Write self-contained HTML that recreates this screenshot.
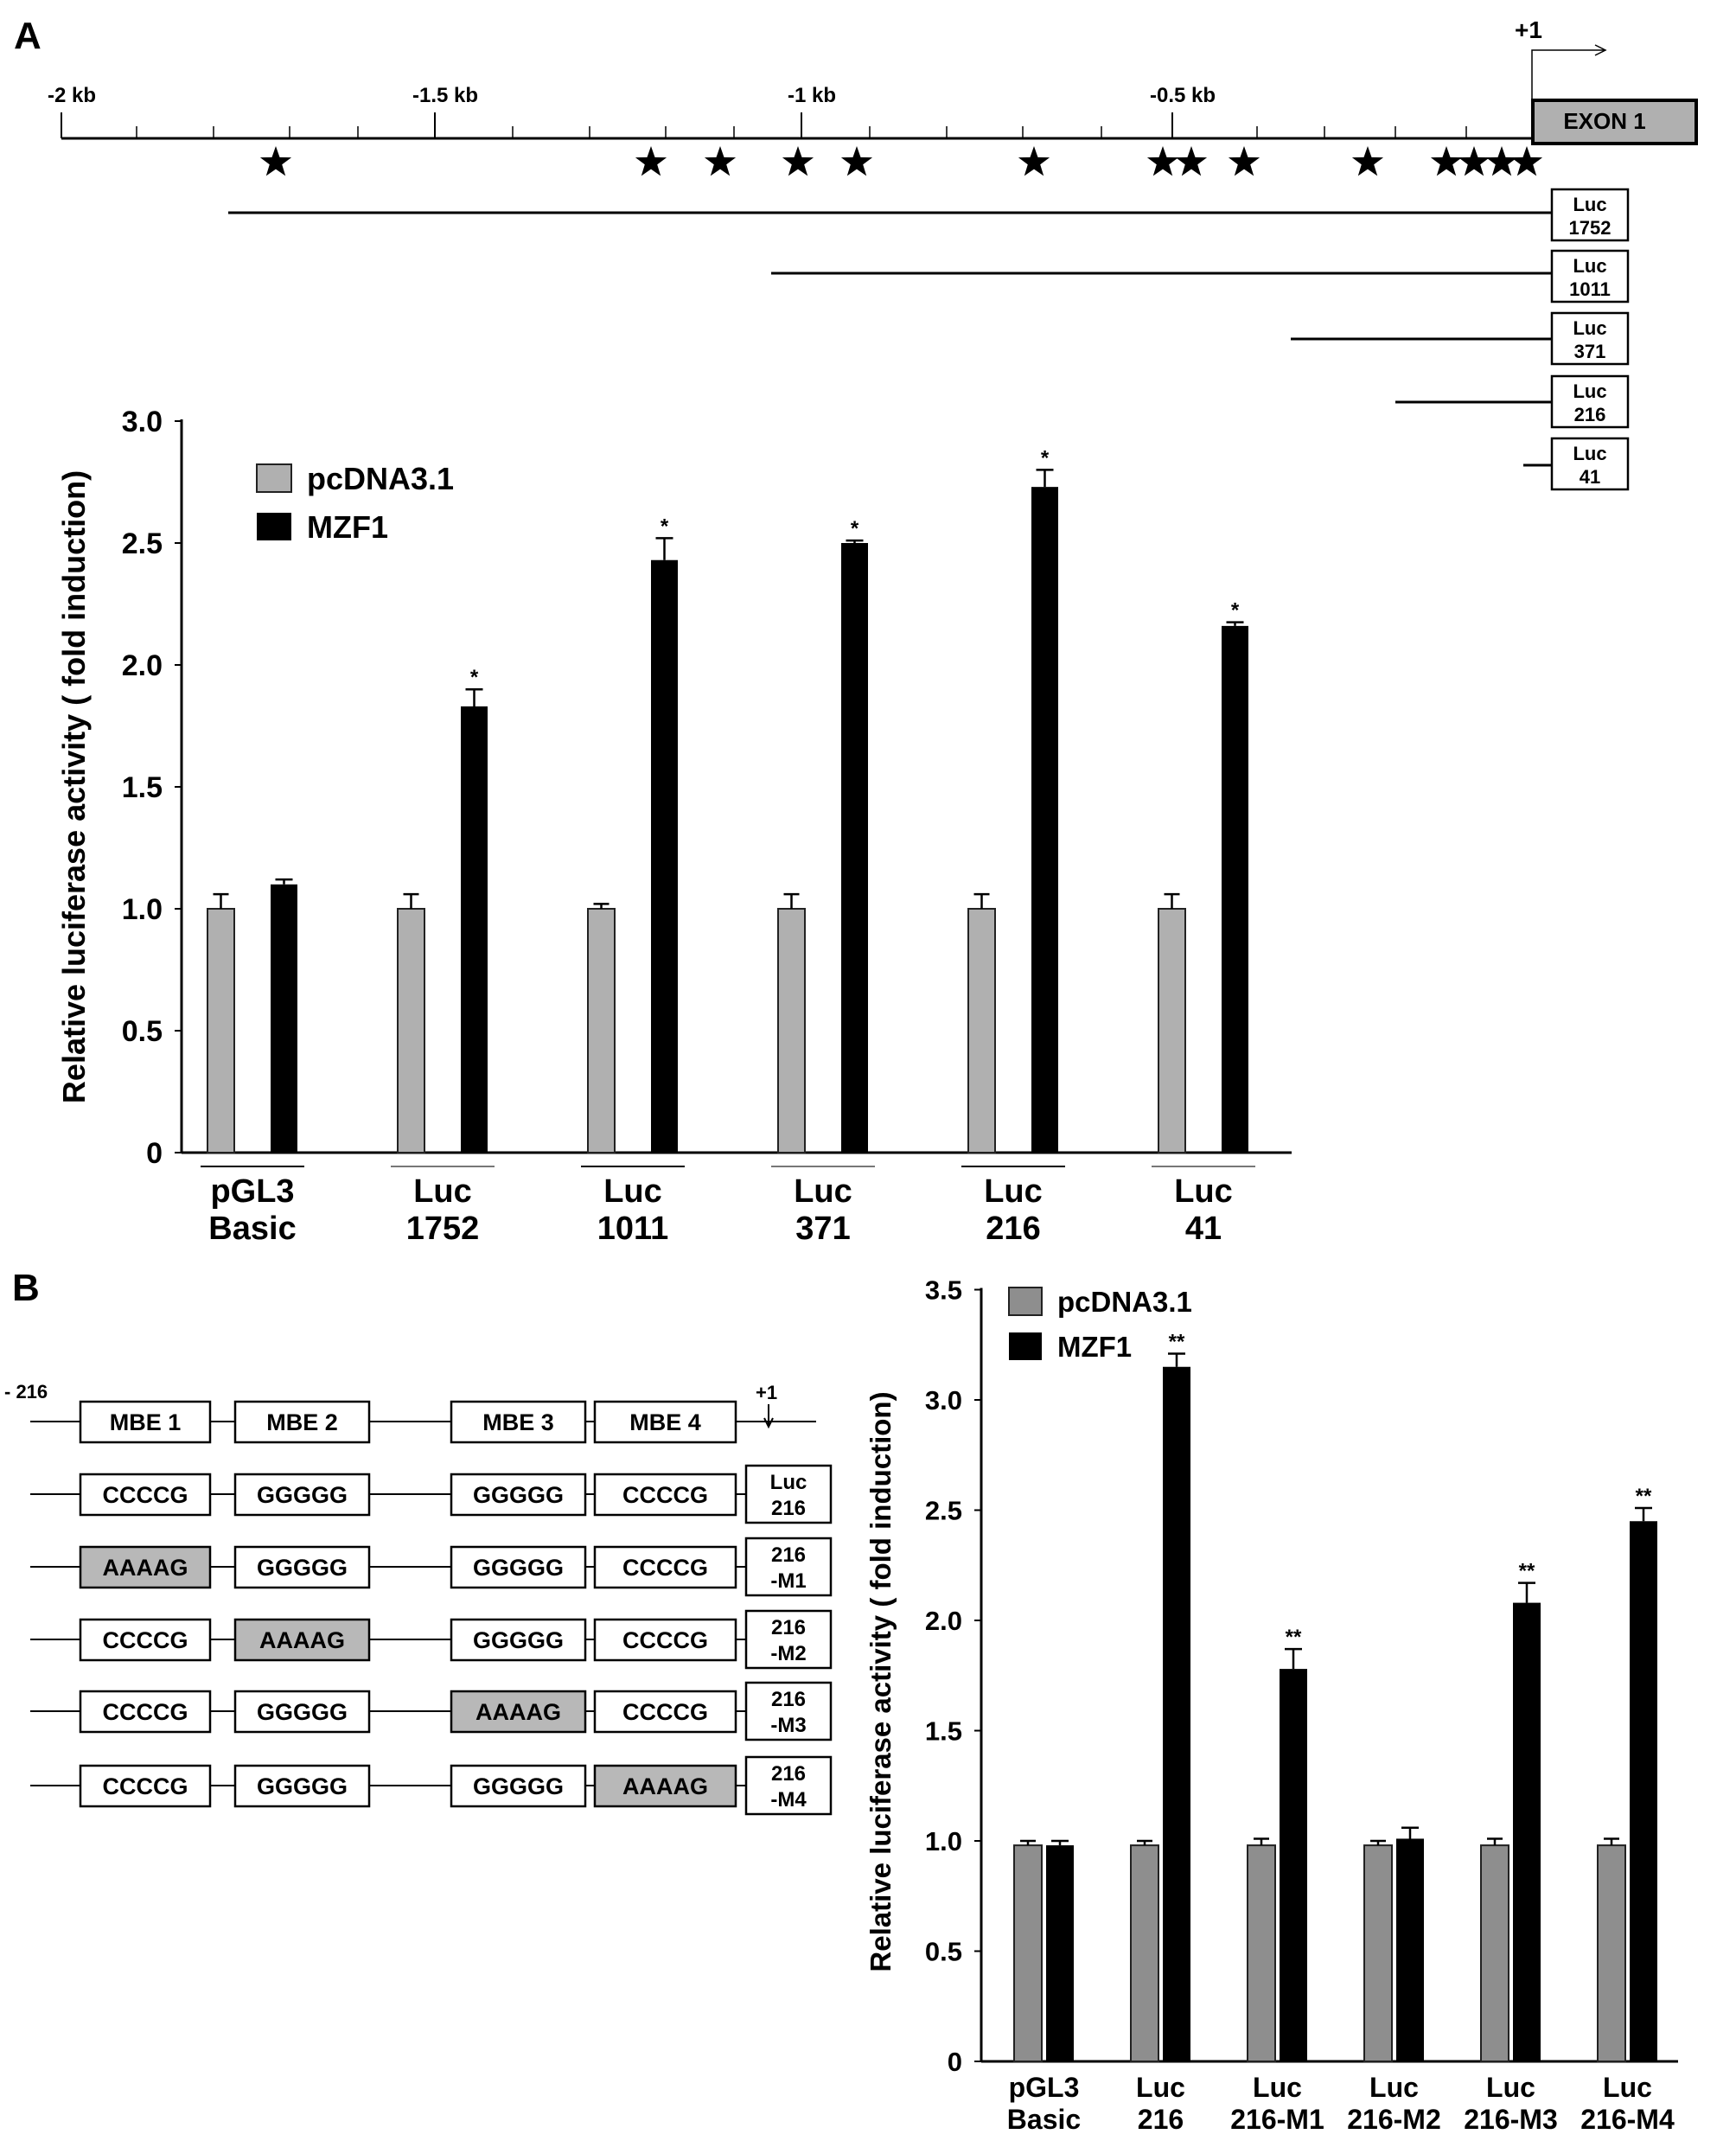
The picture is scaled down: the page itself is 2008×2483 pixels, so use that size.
<!DOCTYPE html>
<html><head><meta charset="utf-8"><style>
html,body{margin:0;padding:0;background:#fff}
svg{display:block;font-family:"Liberation Sans",Arial,sans-serif;font-weight:bold}
</style></head><body>
<svg id="fig" width="2008" height="2483" viewBox="0 0 2008 2483" xmlns="http://www.w3.org/2000/svg">
<g id="mapA"></g>
<g id="chartA"></g>
<g id="diagB"></g>
<g id="chartB"></g>
</svg>
<script>
const NS='http://www.w3.org/2000/svg';
// ---- Chart A data ----
const catsA1=['pGL3','Luc','Luc','Luc','Luc','Luc'];
const catsA2=['Basic','1752','1011','371','216','41'];
const pcA=[1.0,1.0,1.0,1.0,1.0,1.0];
const pcErrA=[0.06,0.06,0.02,0.06,0.06,0.06];
const mzA=[1.1,1.83,2.43,2.5,2.73,2.16];
const mzErrA=[0.02,0.07,0.09,0.01,0.07,0.015];
const sigA=['','*','*','*','*','*'];
const ticksA=[0,0.5,1.0,1.5,2.0,2.5,3.0];
const tickLabA=['0','0.5','1.0','1.5','2.0','2.5','3.0'];
// ---- Chart B data ----
const catsB1=['pGL3','Luc','Luc','Luc','Luc','Luc'];
const catsB2=['Basic','216','216-M1','216-M2','216-M3','216-M4'];
const pcB=[0.98,0.98,0.98,0.98,0.98,0.98];
const pcErrB=[0.02,0.02,0.03,0.02,0.03,0.03];
const mzB=[0.98,3.15,1.78,1.01,2.08,2.45];
const mzErrB=[0.02,0.06,0.09,0.05,0.09,0.06];
const sigB=['','**','**','','**','**'];
const ticksB=[0,0.5,1.0,1.5,2.0,2.5,3.0,3.5];
const tickLabB=['0','0.5','1.0','1.5','2.0','2.5','3.0','3.5'];

function mk(parent,tag,attrs,text){const e=document.createElementNS(NS,tag);for(const k in attrs)e.setAttribute(k,attrs[k]);if(text!==undefined)e.textContent=text;parent.appendChild(e);return e;}

function chart(g,o){
  const y=v=>o.y0-v*o.unit;
  mk(g,'line',{x1:o.ax,y1:y(o.ticks[o.ticks.length-1])-2,x2:o.ax,y2:o.y0,stroke:'#000','stroke-width':3});
  mk(g,'line',{x1:o.ax,y1:o.y0,x2:o.axEnd,y2:o.y0,stroke:'#000','stroke-width':3});
  o.ticks.forEach((t,i)=>{
    const tk=mk(g,'line',{x1:o.ax-8,y1:y(t),x2:o.ax,y2:y(t),stroke:'#000','stroke-width':2});
    
    
    const tl=mk(g,'text',{x:o.ax-22,y:y(t)+o.tf*0.36,'font-size':o.tf,'text-anchor':'end'},o.tickLab[i]);
    
    
  });
  const tt=mk(g,'text',{x:0,y:0,'font-size':o.titleF,'text-anchor':'middle',transform:`translate(${o.titleX},${o.titleY}) rotate(-90)`},'Relative luciferase activity ( fold induction)');
  
  
  for(let i=0;i<o.pc.length;i++){
    const gx=o.gx0+o.gs*i, bx=o.bx0+o.gs*i;
    const r1=mk(g,'rect',{x:gx,y:y(o.pc[i]),width:o.bw,height:o.y0-y(o.pc[i]),fill:o.gray,stroke:'#222','stroke-width':2});
    
    
    const e1=y(o.pc[i]+o.pcErr[i]);
    mk(g,'path',{d:`M${gx+o.bw/2} ${y(o.pc[i])}V${e1}M${gx+o.bw/2-9} ${e1}H${gx+o.bw/2+9}`,stroke:'#000','stroke-width':2.5,fill:'none'});
    const r2=mk(g,'rect',{x:bx,y:y(o.mz[i]),width:o.bw,height:o.y0-y(o.mz[i]),fill:'#000'});
    
    
    const e2=y(o.mz[i]+o.mzErr[i]);
    mk(g,'path',{d:`M${bx+o.bw/2} ${y(o.mz[i])}V${e2}M${bx+o.bw/2-10} ${e2}H${bx+o.bw/2+10}`,stroke:'#000','stroke-width':2.5,fill:'none'});
    if(o.sig[i]){const s=mk(g,'text',{x:bx+o.bw/2,y:e2-6,'font-size':24,'text-anchor':'middle'},o.sig[i]);
      
      }
    const cx=(gx+bx+o.bw)/2;
    if(o.under){mk(g,'line',{x1:cx-60,y1:o.y0+16,x2:cx+60,y2:o.y0+16,stroke:i%2?'#777':'#000','stroke-width':2});}
    const l=mk(g,'text',{x:cx,y:o.l1y,'font-size':o.lf,'text-anchor':'middle'},o.c1[i]);
    
    
    mk(g,'text',{x:cx,y:o.l2y,'font-size':o.lf,'text-anchor':'middle'},o.c2[i]);
  }
  const lg=mk(g,'g',{});
  
  
  mk(lg,'rect',{x:o.lgx,y:o.lgy,width:o.lgw,height:o.lgh,fill:o.gray,stroke:'#222','stroke-width':2});
  mk(lg,'text',{x:o.lgx+o.lgw+18,y:o.lgy+o.lgh*0.5+o.lgf*0.36,'font-size':o.lgf},'pcDNA3.1');
  mk(lg,'rect',{x:o.lgx,y:o.lgy+o.lgd,width:o.lgw,height:o.lgh,fill:'#000'});
  mk(lg,'text',{x:o.lgx+o.lgw+18,y:o.lgy+o.lgd+o.lgh*0.5+o.lgf*0.36,'font-size':o.lgf},'MZF1');
}

chart(document.getElementById('chartA'),{ax:210,axEnd:1494,y0:1333,unit:282,ticks:ticksA,tickLab:tickLabA,tf:34,
 titleF:36,titleX:98,titleY:910,pc:pcA,pcErr:pcErrA,mz:mzA,mzErr:mzErrA,sig:sigA,gx0:240,bx0:313,gs:220,bw:31,gray:'#b0b0b0',
 c1:catsA1,c2:catsA2,l1y:1390,l2y:1433,lf:38,under:true,lgx:297,lgy:537,lgw:40,lgh:32,lgd:56,lgf:36});
chart(document.getElementById('chartB'),{ax:1135,axEnd:1941,y0:2384,unit:255,ticks:ticksB,tickLab:tickLabB,tf:31,
 titleF:33,titleX:1030,titleY:1945,pc:pcB,pcErr:pcErrB,mz:mzB,mzErr:mzErrB,sig:sigB,gx0:1173,bx0:1210,gs:135,bw:32,gray:'#8e8e8e',
 c1:catsB1,c2:catsB2,l1y:2425,l2y:2462,lf:32,under:false,lgx:1167,lgy:1489,lgw:38,lgh:32,lgd:52,lgf:33});

// ---- Promoter map A ----
const mA=document.getElementById('mapA');
mk(mA,'text',{x:16,y:56,'font-size':44},'A');
mk(mA,'text',{x:1752,y:44,'font-size':28},'+1');
mk(mA,'path',{d:'M1772 118V58H1855M1845 52L1857 58L1845 64',stroke:'#000','stroke-width':1.5,fill:'none'});
mk(mA,'line',{x1:71,y1:160,x2:1772,y2:160,stroke:'#000','stroke-width':3});
[[71,'-2 kb'],[503,'-1.5 kb'],[927,'-1 kb'],[1356,'-0.5 kb']].forEach(([x,t])=>{
  mk(mA,'line',{x1:x,y1:130,x2:x,y2:160,stroke:'#000','stroke-width':2});
  mk(mA,'text',{x:x+12,y:118,'font-size':24,'text-anchor':'middle'},t);});
[158,247,335,414,593,682,770,849,1006,1095,1183,1274,1454,1532,1614,1696].forEach(x=>mk(mA,'line',{x1:x,y1:146,x2:x,y2:160,stroke:'#000','stroke-width':1.5}));
const ex=mk(mA,'g',{});
mk(ex,'rect',{x:1773,y:116,width:189,height:50,fill:'#b0b0b0',stroke:'#000','stroke-width':4});
mk(ex,'text',{x:1856,y:149,'font-size':26,'text-anchor':'middle'},'EXON 1');
function star(cx,cy,r){let d='';for(let i=0;i<10;i++){const a=-Math.PI/2+i*Math.PI/5,rr=i%2?r*0.4:r;d+=(i?'L':'M')+(cx+rr*Math.cos(a)).toFixed(1)+' '+(cy+rr*Math.sin(a)).toFixed(1);}return d+'Z';}
[319,753,833,923,991,1196,1345,1378,1439,1582,1673,1705,1737,1766].forEach(x=>{const s=mk(mA,'path',{d:star(x,188,19),fill:'#000'});});
[[264,246,219,'1752'],[892,316,290,'1011'],[1493,392,362,'371'],[1614,465,435,'216'],[1762,538,507,'41']].forEach(([x,ly,by,t])=>{
  mk(mA,'line',{x1:x,y1:ly,x2:1795,y2:ly,stroke:'#000','stroke-width':3});
  mk(mA,'rect',{x:1795,y:by,width:88,height:59,fill:'#fff',stroke:'#000','stroke-width':2.5});
  mk(mA,'text',{x:1839,y:by+25,'font-size':22,'text-anchor':'middle'},'Luc');
  mk(mA,'text',{x:1839,y:by+52,'font-size':22,'text-anchor':'middle'},t);});

// ---- Diagram B ----
const dB=document.getElementById('diagB');
mk(dB,'text',{x:14,y:1504,'font-size':44},'B');
mk(dB,'text',{x:5,y:1617,'font-size':22},'- 216');
const rowsY=[1644,1728,1812,1896,1979,2065];
const boxX=[[93,150],[272,155],[522,155],[688,163]];
const rowsT=[['MBE 1','MBE 2','MBE 3','MBE 4'],['CCCCG','GGGGG','GGGGG','CCCCG'],['AAAAG','GGGGG','GGGGG','CCCCG'],['CCCCG','AAAAG','GGGGG','CCCCG'],['CCCCG','GGGGG','AAAAG','CCCCG'],['CCCCG','GGGGG','GGGGG','AAAAG']];
const labs=[null,['Luc','216'],['216','-M1'],['216','-M2'],['216','-M3'],['216','-M4']];
rowsY.forEach((y,r)=>{
  mk(dB,'line',{x1:35,y1:y,x2:r?863:944,y2:y,stroke:'#000','stroke-width':2});
  boxX.forEach(([x,w],j)=>{
    const t=rowsT[r][j];
    mk(dB,'rect',{x:x,y:y-23,width:w,height:47,fill:t==='AAAAG'?'#b8b8b8':'#fff',stroke:'#000','stroke-width':2.5});
    mk(dB,'text',{x:x+w/2,y:y+10,'font-size':27,'text-anchor':'middle'},t);});
  if(labs[r]){mk(dB,'rect',{x:863,y:y-33,width:98,height:66,fill:'#fff',stroke:'#000','stroke-width':2.5});
    mk(dB,'text',{x:912,y:y-6,'font-size':24,'text-anchor':'middle'},labs[r][0]);
    mk(dB,'text',{x:912,y:y+24,'font-size':24,'text-anchor':'middle'},labs[r][1]);}
});
mk(dB,'text',{x:874,y:1618,'font-size':22},'+1');
mk(dB,'path',{d:'M889 1624V1648M884 1640L889 1650L894 1640',stroke:'#000','stroke-width':2,fill:'none'});
</script>
</body></html>
